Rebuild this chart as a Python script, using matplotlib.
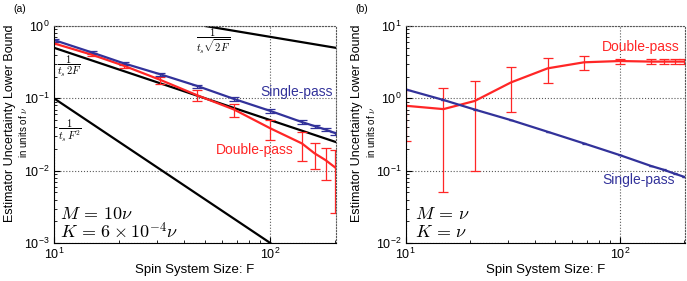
import math

import matplotlib
matplotlib.use("Agg")
import matplotlib.pyplot as plt
from matplotlib.ticker import FuncFormatter, LogLocator, NullFormatter

plt.rcParams["font.family"] = ["Liberation Sans", "DejaVu Sans"]
plt.rcParams["mathtext.fontset"] = "cm"

BLUE = "#32329a"
RED = "#ff2626"

# spin system sizes
F = [10, 15, 21, 31, 46, 68, 100, 140, 160, 180, 200]

# panel (a): M = 10 nu, K = 6e-4 nu
single_a = [0.64, 0.43, 0.305, 0.215, 0.148, 0.098, 0.067, 0.047, 0.0414, 0.037, 0.033]
single_a_err = [0.03, 0.02, 0.014, 0.01, 0.007, 0.005, 0.0035, 0.0025, 0.002, 0.0018, 0.0016]
double_a = [0.575, 0.40, 0.283, 0.18, 0.11, 0.070, 0.0385, 0.0238, 0.0174, 0.014, 0.011]
double_a_err = [0.02, 0.02, 0.02, 0.02, 0.019, 0.014, 0.012, 0.01, 0.0067, 0.0065, 0.0084]

# reference bounds in panel (a), end points
sqrt2F_x = [50, 200]
sqrt2F_y = [1.0, 0.5]
twoF_x = [10, 200]
twoF_y = [0.5, 0.025]
Fsq_x = [10, 100]
Fsq_y = [0.1, 0.001]

# panel (b): M = nu, K = nu
single_b = [1.33, 0.95, 0.70, 0.50, 0.345, 0.238, 0.164, 0.116, 0.103, 0.091, 0.082]
single_b_err = [0.012, 0.008, 0.006, 0.004, 0.003, 0.002, 0.0015, 0.001, 0.001, 0.001, 0.001]
double_b = [0.79, 0.71, 0.92, 1.66, 2.6, 3.15, 3.28, 3.22, 3.22, 3.22, 3.22]
double_b_err = [0.53, 0.66, 0.82, 1.02, 0.99, 0.71, 0.27, 0.25, 0.25, 0.25, 0.25]


def pow_fmt(v, pos):
    e = int(round(math.log10(v)))
    return r"$\mathregular{10^{%d}}$" % e


def style_axes(ax, ylim):
    ax.set_xscale("log")
    ax.set_yscale("log")
    ax.set_xlim(10, 201)
    ax.set_ylim(*ylim)
    ax.xaxis.set_major_locator(LogLocator(base=10))
    ax.yaxis.set_major_locator(LogLocator(base=10))
    ax.xaxis.set_major_formatter(FuncFormatter(pow_fmt))
    ax.yaxis.set_major_formatter(FuncFormatter(pow_fmt))
    ax.xaxis.set_minor_formatter(NullFormatter())
    ax.yaxis.set_minor_formatter(NullFormatter())
    ax.tick_params(which="both", direction="in", labelsize=9, pad=3)
    ax.tick_params(which="major", length=4)
    ax.tick_params(which="minor", length=2)
    ax.grid(True, which="major", linestyle=":", color="0.35", linewidth=0.8)
    for side in ("top", "right"):
        ax.spines[side].set_linestyle(":")
        ax.spines[side].set_color("0.35")
    ax.set_xlabel("Spin System Size: F", fontsize=9.5, labelpad=1)


fig = plt.figure(figsize=(6.87, 2.81), dpi=100)
ax_a = fig.add_axes([0.0786, 0.135, 0.4104, 0.7725])
ax_b = fig.add_axes([0.5905, 0.135, 0.4065, 0.7725])

# ---- panel (a)
style_axes(ax_a, (1e-3, 1e0))
ax_a.plot(sqrt2F_x, sqrt2F_y, color="k", lw=1.6)
ax_a.plot(twoF_x, twoF_y, color="k", lw=1.6)
ax_a.plot(Fsq_x, Fsq_y, color="k", lw=1.6)
ax_a.errorbar(F, double_a, yerr=double_a_err, color=RED, lw=1.6,
              elinewidth=0.9, capsize=3.6, capthick=0.9)
ax_a.errorbar(F, single_a, yerr=single_a_err, color=BLUE, lw=1.6,
              elinewidth=0.9, capsize=3.6, capthick=0.9)

ax_a.text(54.6, 0.61, r"$\dfrac{1}{t_s\sqrt{2F}}$", fontsize=7.5, ha="center", va="center")
ax_a.text(11.8, 0.28, r"$\dfrac{1}{t_s\,2F}$", fontsize=7.5, ha="center", va="center")
ax_a.text(11.8, 0.036, r"$\dfrac{1}{t_s\,F^2}$", fontsize=7.5, ha="center", va="center")
ax_a.text(0.99, 0.696, "Single-pass", color=BLUE, fontsize=10,
          ha="right", va="center", transform=ax_a.transAxes)
ax_a.text(0.85, 0.43, "Double-pass", color=RED, fontsize=10,
          ha="right", va="center", transform=ax_a.transAxes)
ax_a.text(0.02, 0.13, r"$M\,=\,10\nu$", fontsize=13, ha="left", va="center",
          transform=ax_a.transAxes)
ax_a.text(0.02, 0.05, r"$K\,=\,6\times10^{-4}\nu$", fontsize=13, ha="left",
          va="center", transform=ax_a.transAxes)

# ---- panel (b)
style_axes(ax_b, (1e-2, 1e1))
ax_b.errorbar(F, double_b, yerr=double_b_err, color=RED, lw=1.6,
              elinewidth=0.9, capsize=3.6, capthick=0.9)
ax_b.errorbar(F, single_b, yerr=single_b_err, color=BLUE, lw=1.6,
              elinewidth=0.9, capsize=1.5, capthick=0.9)
ax_b.text(0.982, 0.903, "Double-pass", color=RED, fontsize=10,
          ha="right", va="center", transform=ax_b.transAxes)
ax_b.text(0.964, 0.29, "Single-pass", color=BLUE, fontsize=10,
          ha="right", va="center", transform=ax_b.transAxes)
ax_b.text(0.033, 0.13, r"$M\,=\,\nu$", fontsize=13, ha="left", va="center",
          transform=ax_b.transAxes)
ax_b.text(0.033, 0.05, r"$K\,=\,\nu$", fontsize=13, ha="left", va="center",
          transform=ax_b.transAxes)

# y labels (two lines, second smaller) and panel tags
for xbig, xsmall in ((10, 23), (357, 371)):
    fig.text(xbig / 687, 0.56, "Estimator Uncertainty Lower Bound", rotation=90,
             fontsize=9, ha="center", va="center")
    fig.text(xsmall / 687, 0.53, r"in units of $\nu$", rotation=90,
             fontsize=7, ha="center", va="center")
fig.text(20 / 687, 1 - 9 / 281, "(a)", fontsize=7.5, ha="center", va="center")
fig.text(362 / 687, 1 - 9 / 281, "(b)", fontsize=7.5, ha="center", va="center")

fig.savefig("out.png", dpi=100)
